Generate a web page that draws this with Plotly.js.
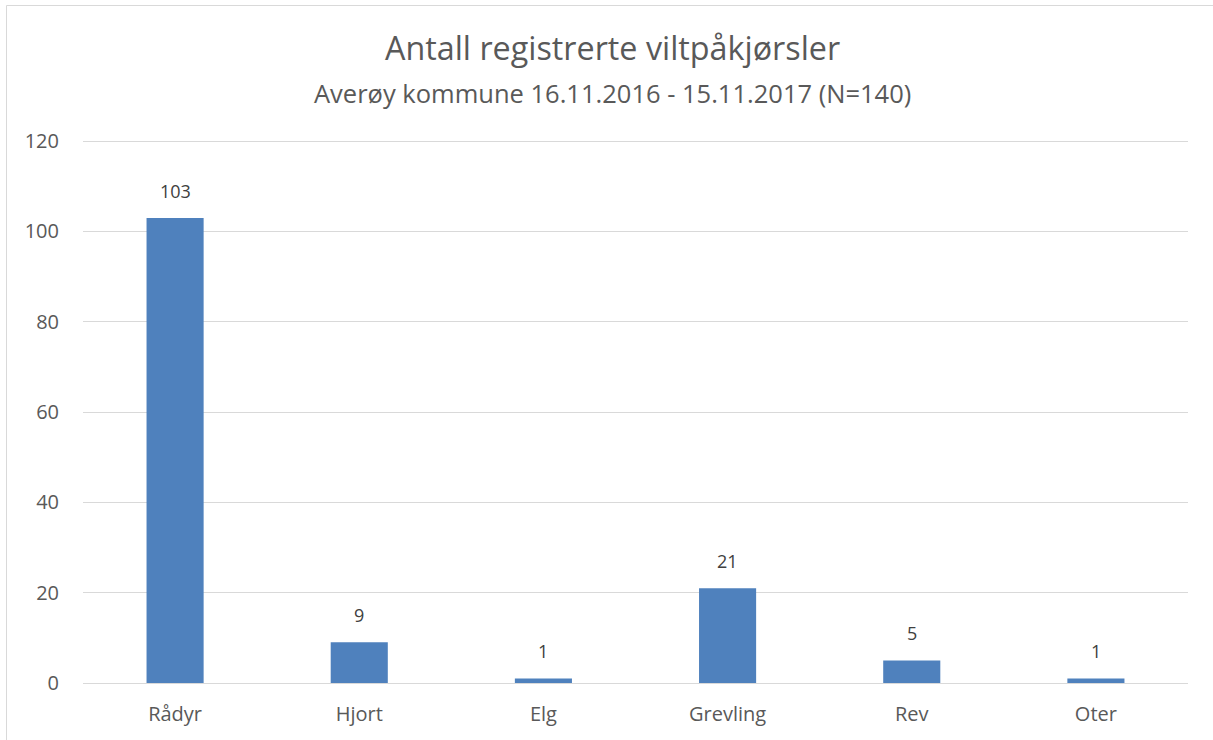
<!DOCTYPE html>
<html>
<head>
<meta charset="utf-8">
<script src="https://cdn.plot.ly/plotly-3.0.1.min.js"></script>
<style>
html,body{margin:0;padding:0;background:#fff;overflow:hidden;width:1213px;height:740px;}
#chart{position:absolute;left:0;top:0;width:1213px;height:740px;}
</style>
</head>
<body>
<div id="chart"></div>
<script>
const categories = ["Rådyr", "Hjort", "Elg", "Grevling", "Rev", "Oter"];
const values = [103, 9, 1, 21, 5, 1];
const yTicks = [0, 20, 40, 60, 80, 100, 120];
const titleText = "Antall registrerte viltpåkjørsler";
const subtitleText = "Averøy kommune 16.11.2016 - 15.11.2017 (N=140)";

const FONT = "'Open Sans', Lato, sans-serif";

const trace = {
  type: "bar",
  x: categories,
  y: values,
  marker: {color: "#4f81bd"},
  hoverinfo: "x+y"
};

const labelAnns = categories.map((c, i) => ({
  x: c, y: values[i], xref: "x", yref: "y",
  text: String(values[i]), showarrow: false,
  yanchor: "middle", yshift: 27,
  font: {family: FONT, size: 18, color: "#404040"}
}));

// chart-area frame (left and top edges visible in the crop)
const M = {l: 83, r: 25, t: 140, b: 57};
const plotW = 1213 - M.l - M.r, plotH = 740 - M.t - M.b;
const fx0 = (6.5 - M.l) / plotW;
const fy1 = (740 - M.b - 5.5) / plotH;
const frameShapes = [
  {type: "line", xref: "paper", yref: "paper", x0: fx0, x1: fx0, y0: -0.2, y1: fy1,
   line: {color: "#d9d9d9", width: 1}},
  {type: "line", xref: "paper", yref: "paper", x0: fx0, x1: 1.1, y0: fy1, y1: fy1,
   line: {color: "#d9d9d9", width: 1}}
];

const layout = {
  width: 1213, height: 740,
  paper_bgcolor: "#ffffff",
  plot_bgcolor: "rgba(0,0,0,0)",
  margin: M,
  bargap: 0.69,
  showlegend: false,
  font: {family: FONT, color: "#595959"},
  shapes: frameShapes,
  xaxis: {
    type: "category",
    showgrid: false,
    showline: false,
    zeroline: false,
    ticks: "",
    ticklabelstandoff: 17,
    tickfont: {family: FONT, size: 20, color: "#595959"}
  },
  yaxis: {
    range: [0, 120.25],
    tickvals: yTicks,
    ticktext: yTicks.map(String),
    showgrid: true,
    gridcolor: "#d9d9d9",
    gridwidth: 1,
    zeroline: true,
    zerolinecolor: "#d9d9d9",
    zerolinewidth: 1,
    showline: false,
    ticks: "",
    ticklabelstandoff: 23,
    tickfont: {family: FONT, size: 20, color: "#595959"}
  },
  annotations: [
    {xref: "paper", yref: "paper", x: 0.479, y: 1, yshift: 93, yanchor: "middle",
     text: titleText, showarrow: false,
     font: {family: FONT, size: 32.3, color: "#595959"}},
    {xref: "paper", yref: "paper", x: 0.479, y: 1, yshift: 47, yanchor: "middle",
     text: subtitleText, showarrow: false,
     font: {family: FONT, size: 25.5, color: "#595959"}}
  ].concat(labelAnns)
};

Plotly.newPlot("chart", [trace], layout, {displayModeBar: false});
</script>
</body>
</html>
